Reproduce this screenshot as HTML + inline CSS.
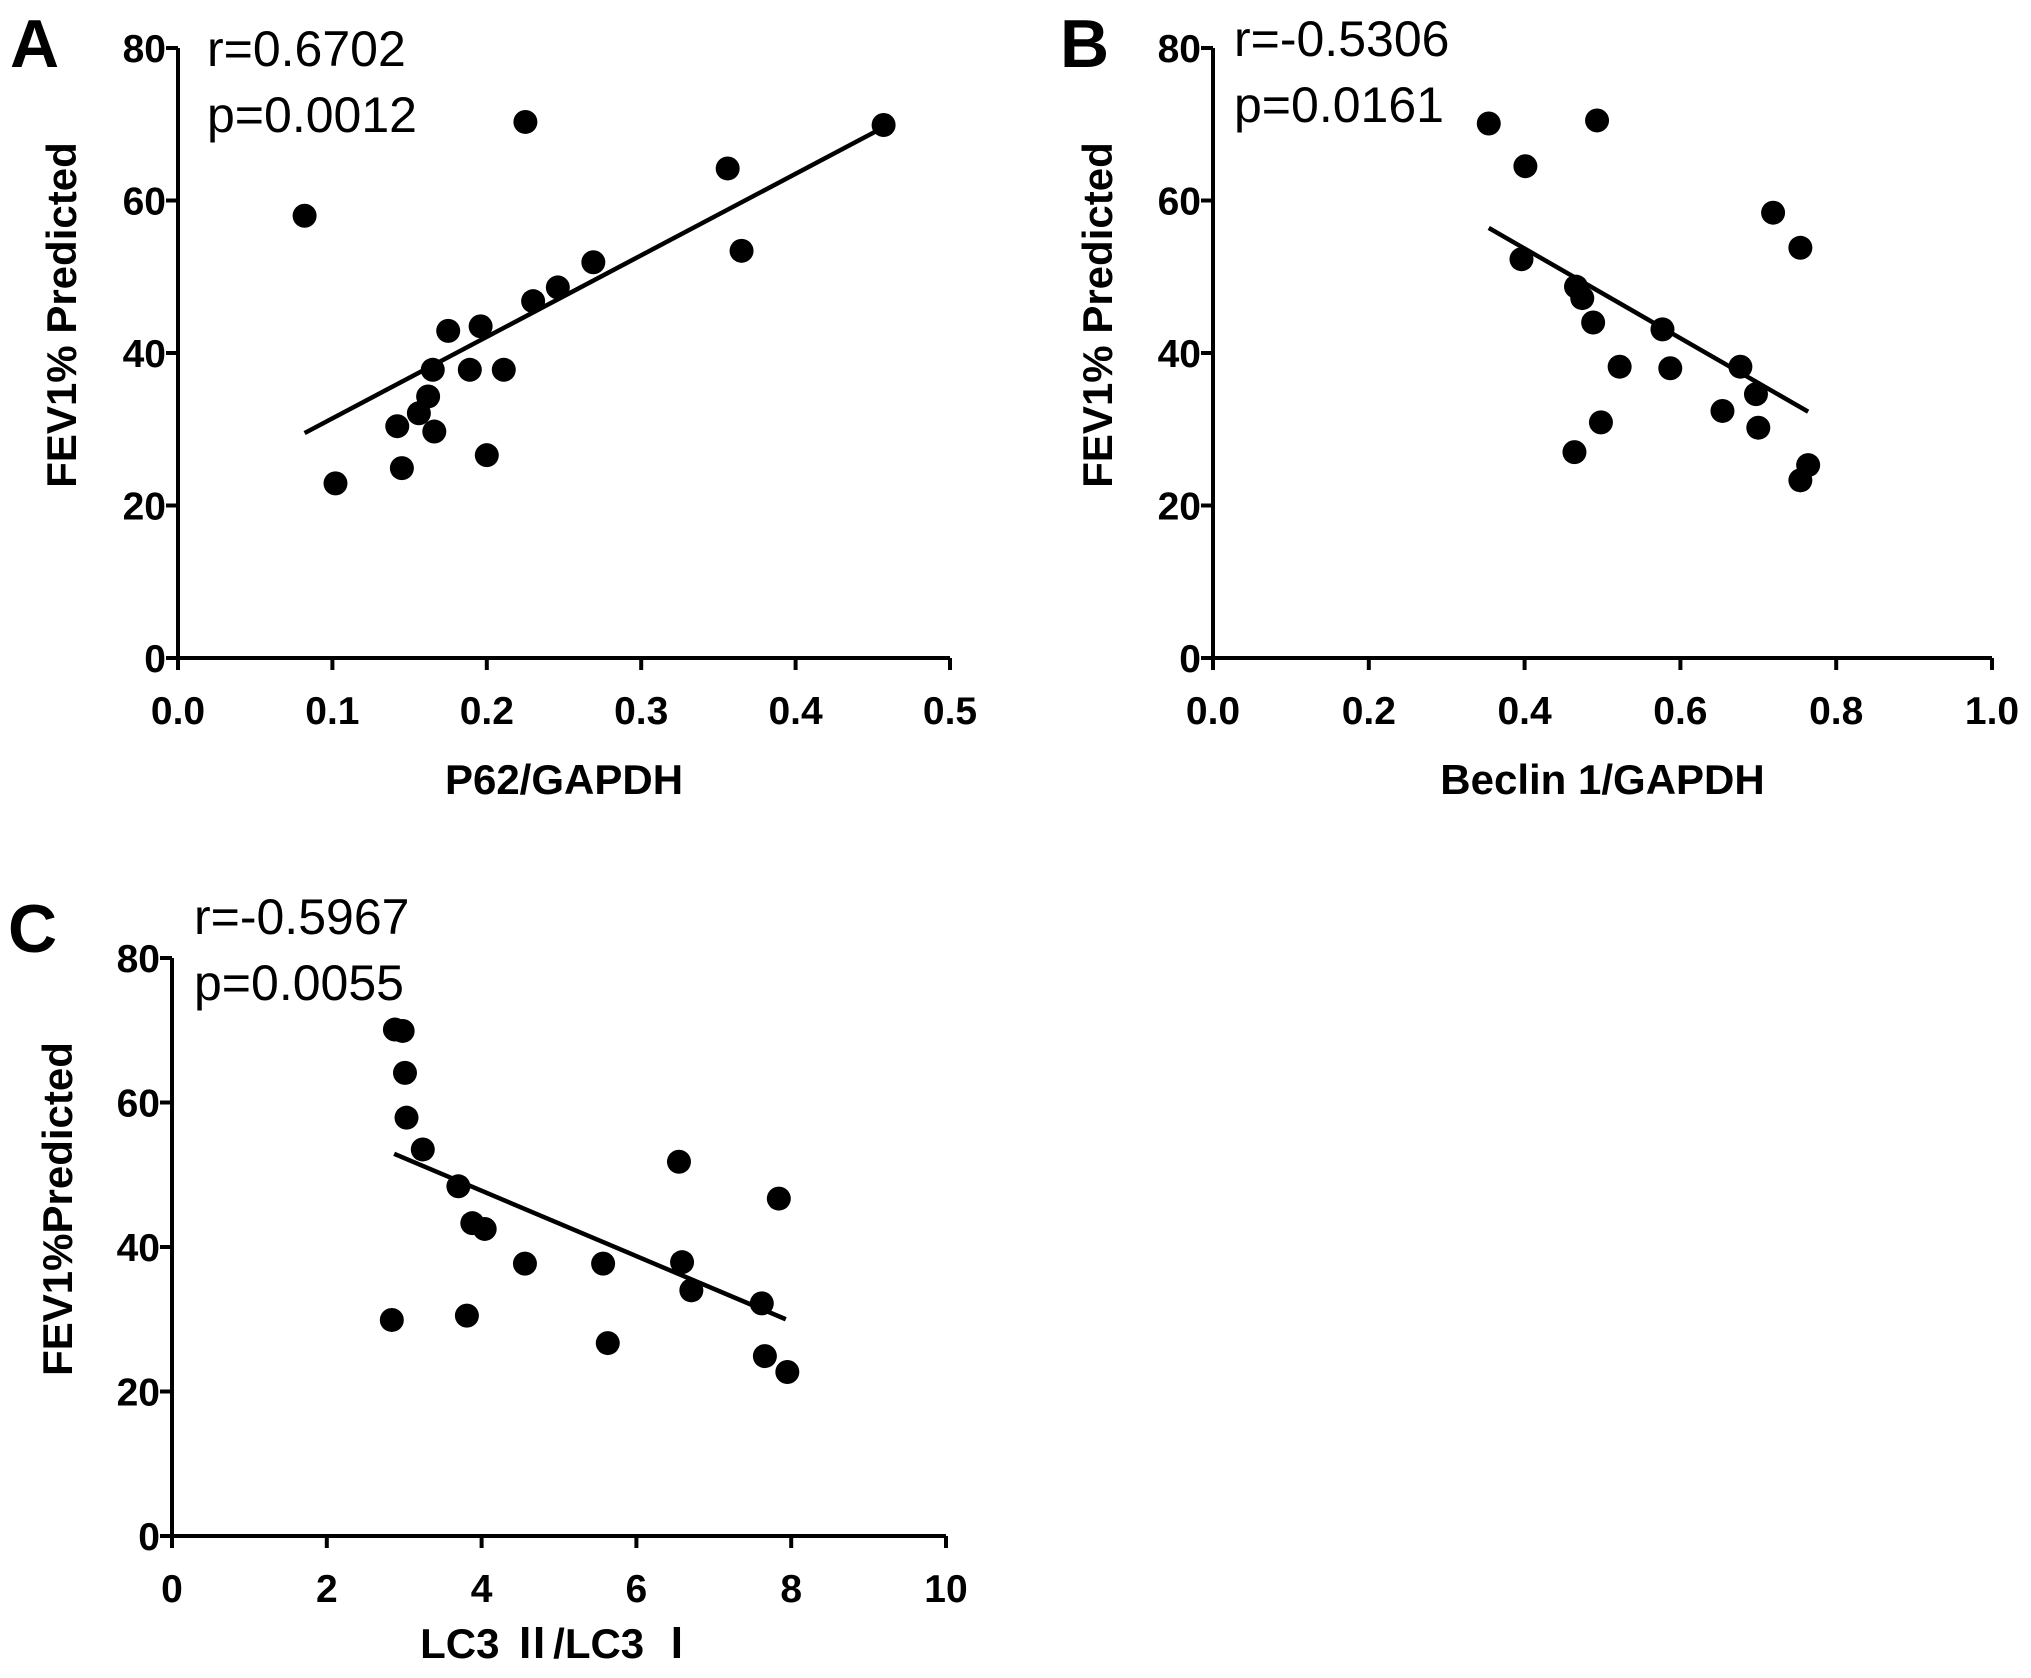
<!DOCTYPE html>
<html><head><meta charset="utf-8"><style>
body{margin:0;background:#fff}
svg{display:block}
text{font-family:"Liberation Sans","Noto Sans CJK SC",sans-serif;fill:#000}
.tick{font-weight:bold;font-size:39px}
.title{font-weight:bold;font-size:42px}
.stat{font-size:50px}
.letter{font-weight:bold;font-size:68px}
</style></head><body>
<svg id="fig" width="2031" height="1678" viewBox="0 0 2031 1678" xmlns="http://www.w3.org/2000/svg"></svg>
<script>
// Panel A: P62/GAPDH
const aX = [0.082,0.225,0.457,0.356,0.365,0.269,0.246,0.230,0.196,0.175,0.165,0.189,0.211,0.162,0.156,0.166,0.142,0.200,0.145,0.102];
const aY = [58.0,70.3,69.9,64.2,53.4,51.9,48.6,46.8,43.5,42.9,37.8,37.8,37.8,34.3,32.1,29.7,30.4,26.6,24.9,22.9];
const aFitX = [0.082,0.457];
const aFitY = [29.5,69.6];
const aXTicks = ["0.0","0.1","0.2","0.3","0.4","0.5"];
// Panel B: Beclin 1/GAPDH
const bX = [0.354,0.493,0.401,0.719,0.754,0.396,0.466,0.474,0.488,0.577,0.677,0.522,0.587,0.697,0.654,0.700,0.498,0.464,0.764,0.754];
const bY = [70.1,70.5,64.5,58.4,53.8,52.3,48.7,47.2,44.0,43.1,38.2,38.2,38.0,34.6,32.4,30.2,30.9,27.0,25.3,23.3];
const bFitX = [0.354,0.764];
const bFitY = [56.4,32.3];
const bXTicks = ["0.0","0.2","0.4","0.6","0.8","1.0"];
// Panel C: LC3 II / LC3 I
const cX = [2.88,2.98,3.01,3.03,3.24,6.55,7.84,3.70,3.88,4.04,4.56,5.57,6.59,6.71,7.62,2.84,3.81,5.63,7.66,7.95];
const cY = [70.1,69.9,64.1,57.9,53.5,51.8,46.7,48.4,43.3,42.5,37.7,37.7,37.9,34.0,32.2,29.9,30.5,26.7,24.9,22.7];
const cFitX = [2.87,7.93];
const cFitY = [52.9,30.0];
const cXTicks = ["0","2","4","6","8","10"];
const yTicks = ["0","20","40","60","80"];

const NS="http://www.w3.org/2000/svg";
const svg=document.getElementById('fig');
function mk(tag,attrs,parent,txt){const e=document.createElementNS(NS,tag);for(const k in attrs)e.setAttribute(k,attrs[k]);if(txt!==undefined)e.textContent=txt;(parent||svg).appendChild(e);return e;}

function panel(id,o){
  const g=mk('g',{});
  
  
  const xMax=parseFloat(o.xt[o.xt.length-1]);
  const sx=v=>o.x0+(v/xMax)*(o.x1-o.x0);
  const sy=v=>o.y0-(v/80)*(o.y0-o.y1);
  const ax=mk('path',{d:`M${o.x0} ${o.y1} L${o.x0} ${o.y0} L${o.x1} ${o.y0}`,stroke:'#000','stroke-width':4,fill:'none'},g);
  
  
  o.xt.forEach(t=>{const v=parseFloat(t);const x=sx(v);
    mk('line',{x1:x,y1:o.y0,x2:x,y2:o.y0+12,stroke:'#000','stroke-width':4},g);
    const tl=mk('text',{x:x,y:o.y0+66,'text-anchor':'middle',class:'tick'},g,t);
    
    
  });
  yTicks.forEach(t=>{const v=parseFloat(t);const y=sy(v);
    mk('line',{x1:o.x0-12,y1:y,x2:o.x0,y2:y,stroke:'#000','stroke-width':4},g);
    const tl=mk('text',{x:o.x0-12,y:y+14,'text-anchor':'end',class:'tick'},g,t);
    
    
  });
  const fl=mk('line',{x1:sx(o.fx[0]),y1:sy(o.fy[0]),x2:sx(o.fx[1]),y2:sy(o.fy[1]),stroke:'#000','stroke-width':4.5},g);
  
  
  o.px.forEach((v,i)=>{
    const c=mk('circle',{cx:sx(v),cy:sy(o.py[i]),r:12,fill:'#000'},g);
    
    
  });
  const yt=mk('text',{x:0,y:0,class:'title','text-anchor':'middle',transform:`translate(${o.yTitleX},${(o.y0+o.y1)/2-38}) rotate(-90)`},g,o.yTitle);
  
  
  const xt=mk('text',{x:(o.x0+o.x1)/2,y:o.y0+o.xTitleDy,class:'title','text-anchor':'middle'},g,o.xTitle);
  
  
  const r=mk('text',{x:o.sx,y:o.sy,class:'stat'},g,o.r);
  
  
  const p=mk('text',{x:o.sx,y:o.sy+66,class:'stat'},g,o.p);
  
  
  const L=mk('text',{x:o.lx,y:o.ly,class:'letter'},g,id);
  
  
}
panel('A',{x0:178,x1:950,y0:658,y1:48,xt:aXTicks,px:aX,py:aY,fx:aFitX,fy:aFitY,yTitle:'FEV1% Predicted',yTitleX:76,xTitle:'P62/GAPDH',xTitleDy:136,r:'r=0.6702',p:'p=0.0012',sx:207,sy:66,lx:10,ly:67});
panel('B',{x0:1213,x1:1992,y0:658,y1:48,xt:bXTicks,px:bX,py:bY,fx:bFitX,fy:bFitY,yTitle:'FEV1% Predicted',yTitleX:1112,xTitle:'Beclin 1/GAPDH',xTitleDy:136,r:'r=-0.5306',p:'p=0.0161',sx:1234,sy:56,lx:1060,ly:67});
panel('C',{x0:172,x1:946,y0:1536,y1:958,xt:cXTicks,px:cX,py:cY,fx:cFitX,fy:cFitY,yTitle:'FEV1%Predicted',yTitleX:72,xTitle:'LC3 Ⅱ/LC3 Ⅰ',xTitleDy:122,r:'r=-0.5967',p:'p=0.0055',sx:194,sy:934,lx:8,ly:952});
</script>
</body></html>
